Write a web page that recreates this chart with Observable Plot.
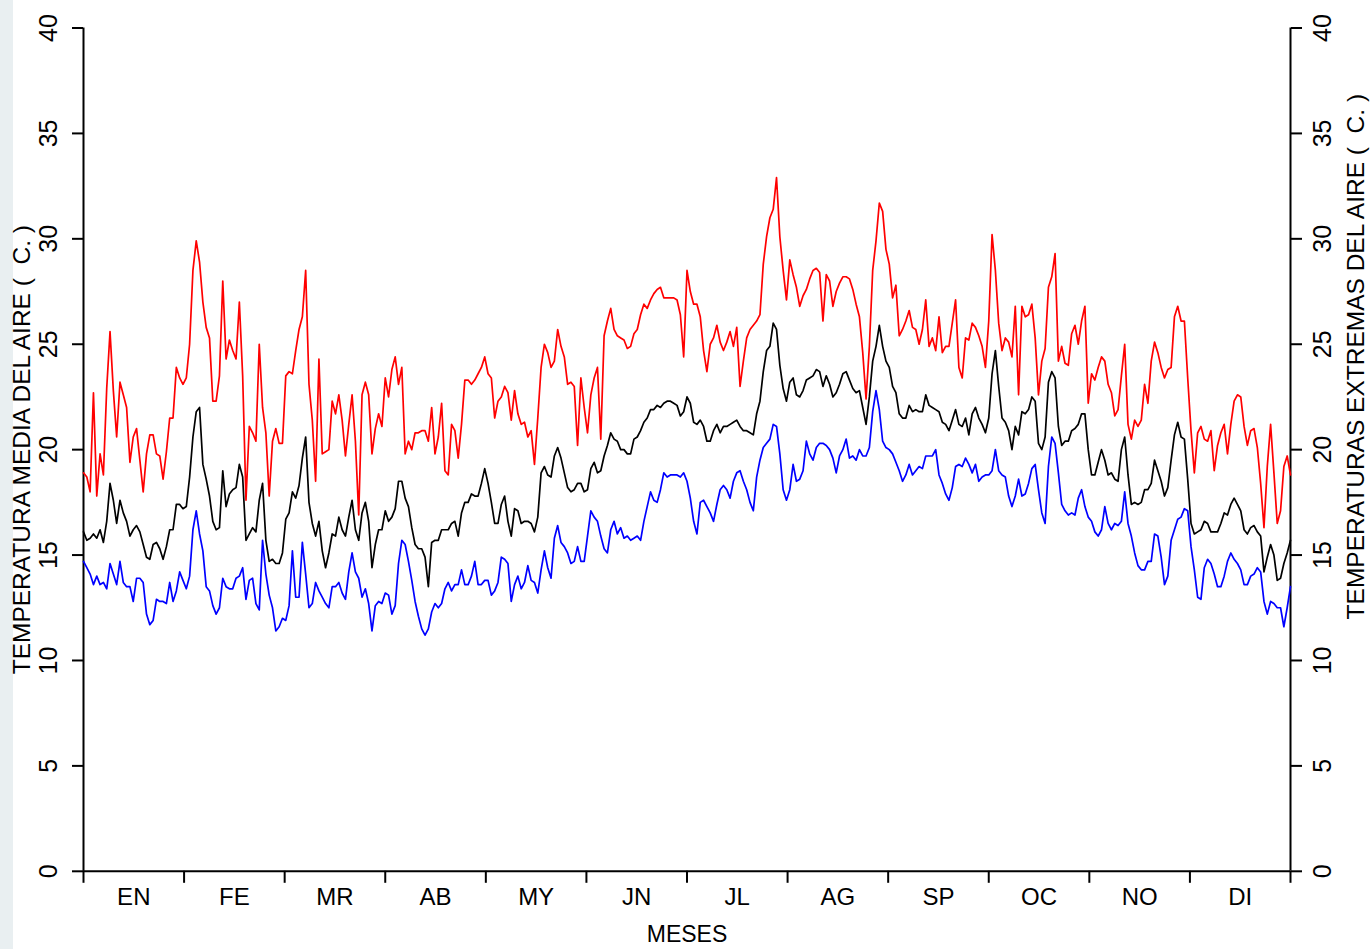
<!DOCTYPE html>
<html>
<head>
<meta charset="utf-8">
<script src="https://cdn.jsdelivr.net/npm/d3@7"></script>
<script src="https://cdn.jsdelivr.net/npm/@observablehq/plot@0.6"></script>
<style>
  html, body { margin: 0; padding: 0; background: #fff; overflow: hidden; }
  #wrap { position: relative; width: 1371px; height: 949px; }
  #wm { position: absolute; left: 0; top: 0; width: 13px; height: 949px; background: #e9eff1; }
  #chart { position: absolute; left: 0; top: 0; }
  #chart svg { display: block; }
</style>
</head>
<body>
<div id="wrap"><div id="wm"></div><div id="chart"></div></div>
<script>
// Month labels (Spanish abbreviations) and y tick values
const monthLabels = ["EN","FE","MR","AB","MY","JN","JL","AG","SP","OC","NO","DI"];
const yTicks = [0, 5, 10, 15, 20, 25, 30, 35, 40];
const leftTitle = "TEMPERATURA MEDIA DEL AIRE (\u00A0\u00A0C.\u00A0)";
const rightTitle = "TEMPERATURAS EXTREMAS DEL AIRE (\u00A0\u00A0C.\u00A0)";
const xTitle = "MESES";

// Daily maximum temperature (red), day 1..365
const tMax = [
18.9,18.7,18.0,22.7,17.8,19.8,18.8,22.9,25.6,22.8,
20.6,23.2,22.6,22.0,19.4,20.6,21.0,19.5,18.0,19.8,
20.7,20.7,19.8,19.7,18.6,19.9,21.5,21.5,23.9,23.4,
23.1,23.4,25.0,28.5,29.9,28.9,27.0,25.8,25.3,22.3,
22.3,23.5,28.0,24.3,25.2,24.7,24.3,27.0,23.5,17.6,
21.1,20.8,20.4,25.0,22.0,20.8,17.8,20.4,21.0,20.3,
20.3,23.5,23.7,23.6,24.7,25.7,26.3,28.5,23.1,21.4,
18.5,24.3,19.8,19.9,20.0,22.3,21.7,22.6,21.4,19.7,
21.2,22.6,20.4,16.9,22.6,23.2,22.6,19.8,21.0,21.7,
21.1,23.4,22.5,23.8,24.4,23.1,23.9,19.8,20.4,20.0,
20.8,20.8,20.9,20.9,20.4,22.0,19.8,20.6,22.2,19.0,
18.8,21.2,20.9,19.6,21.2,23.3,23.3,23.1,23.3,23.6,
23.9,24.4,23.6,23.4,21.5,22.3,22.5,23.0,22.7,21.4,
22.8,21.7,21.2,21.3,20.6,20.9,19.3,21.5,23.9,25.0,
24.6,23.9,24.2,25.7,24.9,24.4,23.1,23.2,23.0,20.2,
23.4,22.0,20.8,22.6,23.4,23.9,20.5,25.4,26.1,26.7,
25.7,25.4,25.3,25.2,24.8,24.9,25.5,25.7,26.4,26.9,
26.7,27.1,27.4,27.6,27.7,27.2,27.2,27.2,27.2,27.1,
26.4,24.4,28.5,27.5,26.9,26.9,26.3,24.7,23.7,25.0,
25.3,25.9,25.1,24.7,25.1,25.6,24.9,25.8,23.0,24.2,
25.3,25.7,25.9,26.1,26.4,28.8,30.1,31.0,31.4,32.9,
30.1,28.5,27.1,29.0,28.3,27.7,26.8,27.3,27.6,28.1,
28.5,28.6,28.4,26.1,28.3,28.0,26.8,27.5,27.9,28.2,
28.2,28.1,27.6,26.9,26.3,24.6,22.4,24.9,28.5,29.9,
31.7,31.3,29.5,28.8,27.2,27.8,25.4,25.7,26.1,26.6,
25.8,25.7,25.0,25.7,27.1,24.9,25.3,24.7,26.3,24.6,
24.9,24.9,26.0,27.1,23.9,23.4,25.3,25.2,26.0,25.8,
25.4,24.9,23.9,26.1,30.2,28.5,26.0,24.7,25.3,25.1,
24.4,26.8,22.6,26.8,26.3,26.4,26.9,25.3,22.6,24.2,
24.8,27.7,28.2,29.3,24.2,24.9,24.1,24.0,25.5,25.9,
25.0,26.1,26.8,22.2,23.6,23.3,23.9,24.4,24.2,23.1,
22.7,21.6,21.9,23.5,25.0,21.2,20.5,21.4,21.1,21.4,
23.1,22.2,24.2,25.1,24.6,23.9,23.4,23.8,23.9,26.3,
26.8,26.1,26.1,23.4,20.9,18.9,20.8,21.1,20.5,20.4,
20.9,19.0,20.2,20.8,21.2,19.8,21.2,22.3,22.6,22.5,
21.1,20.2,20.9,21.0,20.1,18.4,16.3,19.2,21.2,18.9,
16.5,17.1,19.2,19.7,18.8
];

// Daily mean temperature (black)
const tMean = [
16.1,15.7,15.8,16.0,15.8,16.2,15.6,16.6,18.4,17.6,
16.5,17.6,17.0,16.6,15.9,16.2,16.4,16.1,15.5,14.9,
14.8,15.5,15.6,15.3,14.8,15.4,16.2,16.2,17.4,17.4,
17.2,17.3,18.7,20.6,21.8,22.0,19.3,18.6,17.8,16.6,
16.2,16.3,19.0,17.3,17.9,18.1,18.2,19.3,18.7,15.7,
16.0,16.3,16.1,17.6,18.4,15.7,14.7,14.8,14.6,14.6,
15.1,16.7,17.0,18.0,17.7,18.3,19.6,20.6,17.5,16.5,
15.9,16.6,15.2,14.4,15.1,16.0,15.9,16.8,16.2,15.9,
16.8,17.6,16.2,15.7,17.0,17.5,16.6,14.4,15.5,16.2,
16.2,17.1,16.6,16.8,17.2,18.5,18.5,17.7,17.3,16.3,
15.5,15.3,15.3,14.9,13.5,15.6,15.7,15.7,16.2,16.2,
16.2,16.5,16.6,15.9,17.0,17.5,17.5,17.9,17.8,17.8,
18.4,19.1,18.4,17.5,16.5,16.5,17.4,17.8,16.6,15.9,
17.2,17.1,16.5,16.6,16.6,16.5,16.1,16.8,18.9,19.2,
18.8,18.7,19.7,20.1,19.6,18.9,18.2,18.0,18.1,18.4,
18.4,18.0,18.1,19.1,19.4,18.9,19.0,19.7,20.2,20.8,
20.5,20.4,20.0,20.0,19.8,19.8,20.5,20.6,20.9,21.3,
21.5,21.9,21.9,22.1,22.0,22.2,22.3,22.3,22.2,22.1,
21.6,21.8,22.5,22.2,21.3,21.2,21.4,21.1,20.4,20.4,
20.9,21.2,20.8,21.1,21.1,21.2,21.3,21.4,21.1,20.9,
20.9,20.8,20.7,21.7,22.3,23.7,24.7,24.9,26.0,25.7,
24.0,22.9,22.3,23.2,23.4,22.6,22.5,22.8,23.3,23.4,
23.5,23.8,23.7,23.0,23.5,23.1,22.5,22.7,23.1,23.6,
23.7,23.3,22.9,22.7,22.8,22.0,21.2,22.5,24.2,24.9,
25.9,24.9,24.2,23.9,23.0,22.7,21.7,21.5,21.5,22.1,
21.8,21.9,21.8,21.8,22.6,22.1,22.0,21.9,21.8,21.3,
21.2,20.9,21.4,21.9,21.2,21.1,21.5,20.7,21.7,22.0,
21.5,21.2,20.8,21.5,23.6,24.7,23.0,21.5,21.3,20.9,
20.0,21.1,20.7,21.8,21.7,21.9,22.5,22.3,20.3,20.0,
20.6,23.2,23.7,23.4,21.1,20.2,20.4,20.4,20.9,21.0,
21.2,21.7,21.7,20.0,18.8,18.8,19.4,20.0,19.5,18.8,
18.9,18.6,18.5,20.0,20.6,18.8,17.4,17.5,17.4,17.5,
18.1,18.1,18.4,19.5,19.0,18.5,17.8,18.2,19.5,20.7,
21.3,20.6,20.5,18.6,16.5,16.0,16.1,16.2,16.6,16.5,
16.1,16.1,16.1,16.5,17.0,16.9,17.4,17.7,17.4,17.1,
16.2,16.0,16.3,16.4,16.1,15.9,14.2,14.9,15.5,15.0,
13.8,13.9,14.6,15.1,15.7
];

// Daily minimum temperature (blue)
const tMin = [
14.7,14.4,14.1,13.6,14.0,13.6,13.7,13.4,14.6,14.1,
13.6,14.7,13.7,13.5,13.5,12.8,13.9,13.9,13.7,12.2,
11.7,11.9,12.9,12.8,12.8,12.7,13.7,12.8,13.3,14.2,
13.8,13.4,14.0,16.2,17.1,16.0,15.2,13.5,13.3,12.6,
12.2,12.5,13.9,13.5,13.4,13.4,13.9,14.0,14.4,12.9,
13.8,13.9,12.7,12.4,15.7,14.1,13.1,12.5,11.4,11.6,
12.0,11.9,12.6,15.2,13.0,13.0,15.6,14.1,12.5,12.7,
13.7,13.3,13.0,12.7,12.5,13.5,13.5,13.7,13.2,12.9,
14.2,15.1,14.2,13.9,13.0,13.4,12.7,11.4,12.6,12.8,
12.7,13.2,13.1,12.2,12.6,14.6,15.7,15.5,14.7,13.8,
12.8,12.1,11.5,11.2,11.5,12.3,12.7,12.5,12.7,13.4,
13.7,13.3,13.6,13.6,14.3,13.6,13.6,14.0,14.7,13.6,
13.6,13.8,13.8,13.1,13.3,13.7,14.9,14.8,14.6,12.8,
13.6,14.0,13.4,13.7,14.5,13.8,13.7,13.2,14.3,15.2,
14.4,13.9,15.8,16.4,15.6,15.4,15.1,14.6,14.7,15.4,
14.7,14.7,15.9,17.1,16.8,16.6,15.9,15.3,15.1,16.2,
16.6,16.0,16.3,15.8,15.9,15.7,15.8,15.9,15.7,16.6,
17.3,18.0,17.6,17.5,18.1,18.9,18.7,18.8,18.8,18.8,
18.7,18.9,18.5,17.7,16.6,16.0,17.5,17.6,17.3,17.0,
16.6,17.4,18.1,18.3,18.1,17.7,18.5,18.9,19.0,18.5,
18.1,17.5,17.1,18.7,19.5,20.1,20.3,20.5,21.2,21.1,
19.8,18.1,17.6,18.1,19.3,18.5,18.6,19.0,20.4,19.8,
19.5,20.1,20.3,20.3,20.2,20.0,19.6,18.9,19.7,20.0,
20.5,19.6,19.7,19.5,20.0,19.7,19.7,20.1,21.8,22.8,
21.9,20.4,20.1,20.0,19.8,19.4,19.0,18.5,18.8,19.3,
18.8,19.0,19.2,19.1,19.7,19.7,19.7,20.0,18.8,18.4,
17.9,17.6,18.2,19.2,19.3,19.2,19.6,19.3,18.9,19.3,
18.5,18.7,18.8,18.8,19.0,20.0,19.0,18.8,18.7,17.8,
17.3,17.8,18.6,17.8,17.9,18.4,19.1,19.3,18.1,17.0,
16.5,19.2,20.6,20.3,18.9,17.4,17.1,16.9,17.0,16.9,
17.7,18.1,17.3,16.8,16.6,16.1,15.9,16.2,17.3,16.5,
16.2,16.5,16.4,16.6,18.0,16.5,15.9,15.1,14.5,14.3,
14.3,14.7,14.7,16.0,15.9,14.9,13.6,14.0,15.7,16.2,
16.7,16.8,17.2,17.1,15.4,14.3,13.0,12.9,14.4,14.8,
14.6,14.1,13.5,13.5,14.0,14.7,15.1,14.8,14.6,14.3,
13.6,13.6,14.0,14.1,14.4,14.2,12.8,12.2,12.8,12.7,
12.5,12.5,11.6,12.5,13.5
];

const lastDay = tMax.length - 1;
const monthEdges = d3.range(13).map(k => k * lastDay / 12);
const monthMids = d3.range(12).map(k => (k + 0.5) * lastDay / 12);

const chart = Plot.plot({
  width: 1371,
  height: 949,
  marginLeft: 83,
  marginRight: 81,
  marginTop: 27.5,
  marginBottom: 78.2,
  x: {domain: [0, lastDay], axis: null},
  y: {domain: [0, 40], axis: null},
  style: {fontFamily: "'Liberation Sans', Arial, sans-serif", fontSize: "25px", color: "black", background: "transparent"},
  marks: [
    // axes frame lines
    Plot.ruleX([0, lastDay], {stroke: "black", strokeWidth: 2}),
    Plot.ruleY([0], {stroke: "black", strokeWidth: 2}),
    // ticks
    Plot.axisY({anchor: "left", ticks: yTicks, tickSize: 11, tickFormat: () => "", label: null, strokeWidth: 2}),
    Plot.axisY({anchor: "right", ticks: yTicks, tickSize: 11, tickFormat: () => "", label: null, strokeWidth: 2}),
    Plot.axisX({anchor: "bottom", ticks: monthEdges, tickSize: 12, tickFormat: () => "", label: null, strokeWidth: 2}),
    // tick labels (rotated)
    Plot.text(yTicks, {y: d => d, text: d => String(d), frameAnchor: "left", textAnchor: "middle", lineAnchor: "middle", dx: -35, rotate: -90, fontSize: 25}),
    Plot.text(yTicks, {y: d => d, text: d => String(d), frameAnchor: "right", textAnchor: "middle", lineAnchor: "middle", dx: 32, rotate: -90, fontSize: 25}),
    Plot.text(monthLabels, {x: (d, i) => monthMids[i], text: d => d, frameAnchor: "bottom", textAnchor: "middle", lineAnchor: "middle", dy: 26, fontSize: 24}),
    // titles
    Plot.text([xTitle], {text: d => d, frameAnchor: "bottom", textAnchor: "middle", lineAnchor: "middle", dy: 63, fontSize: 23}),
    Plot.text([leftTitle], {text: d => d, frameAnchor: "left", textAnchor: "middle", lineAnchor: "middle", dx: -61, rotate: -90, fontSize: 24.5}),
    Plot.text([rightTitle], {text: d => d, frameAnchor: "right", textAnchor: "middle", lineAnchor: "middle", dx: 66, dy: -93, rotate: -90, fontSize: 24.5}),
    // series
    Plot.lineY(tMax, {stroke: "#ff0000", strokeWidth: 1.7}),
    Plot.lineY(tMean, {stroke: "#000000", strokeWidth: 1.7}),
    Plot.lineY(tMin, {stroke: "#0000ff", strokeWidth: 1.7})
  ]
});
document.getElementById("chart").appendChild(chart);
</script>
</body>
</html>
